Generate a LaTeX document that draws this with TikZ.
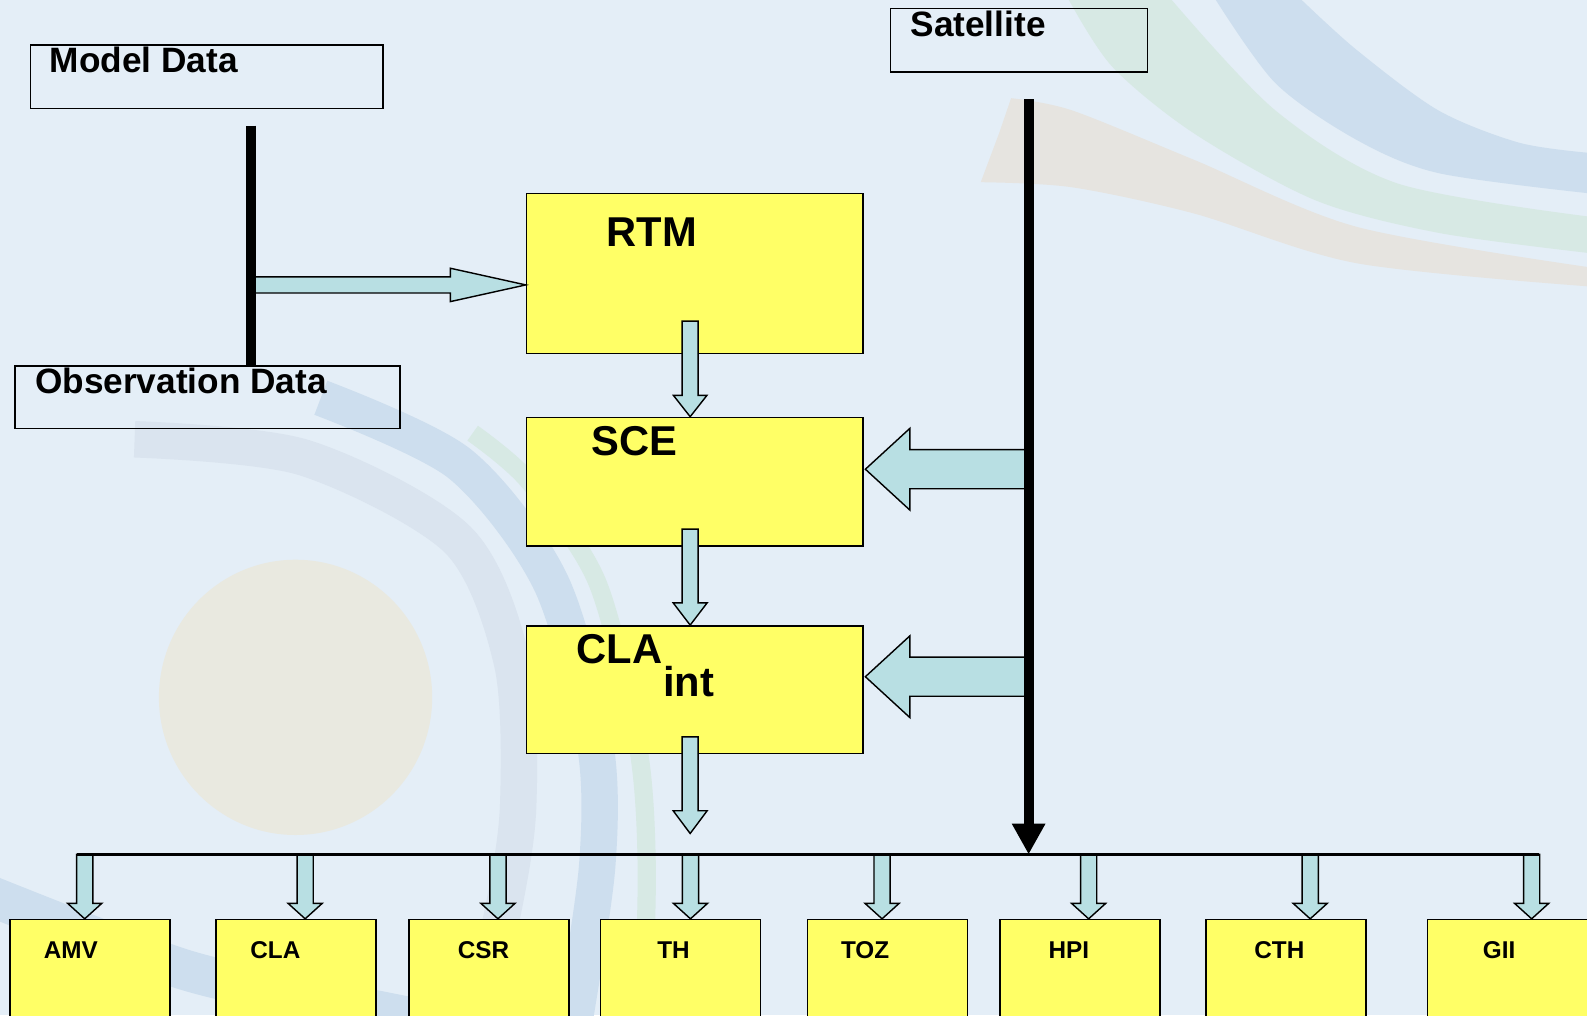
\documentclass[tikz,border=0pt]{standalone}
\usepackage{fontspec}
\setmainfont{Liberation Sans}
\usetikzlibrary{calc,arrows.meta}
\definecolor{bgc}{RGB}{228,238,247}
\definecolor{yel}{RGB}{255,255,102}
\definecolor{arrc}{RGB}{184,223,227}
\definecolor{bandblue}{RGB}{205,222,238}
\definecolor{bandlblue}{RGB}{218,228,239}
\definecolor{bandgreen}{RGB}{215,233,228}
\definecolor{bandbeige}{RGB}{230,228,224}
\definecolor{diskc}{RGB}{233,233,224}
\newcommand{\blkdown}[5]{\draw[blk] ($(#1)+(-#3,0)$) -- ($(#2)+(-#3,-#5)$) -- ($(#2)+(-#4,-#5)$) -- (#2) -- ($(#2)+(#4,-#5)$) -- ($(#2)+(#3,-#5)$) -- ($(#1)+(#3,0)$) -- cycle;}
\newcommand{\blkright}[5]{\draw[blk] ($(#1)+(0,-#3)$) -- ($(#2)+(-#5,-#3)$) -- ($(#2)+(-#5,-#4)$) -- (#2) -- ($(#2)+(-#5,#4)$) -- ($(#2)+(-#5,#3)$) -- ($(#1)+(0,#3)$) -- cycle;}
\newcommand{\blkleft}[5]{\draw[blk] ($(#1)+(0,-#3)$) -- ($(#2)+(#5,-#3)$) -- ($(#2)+(#5,-#4)$) -- (#2) -- ($(#2)+(#5,#4)$) -- ($(#2)+(#5,#3)$) -- ($(#1)+(0,#3)$) -- cycle;}
\tikzset{
 databox/.style={draw=black, line width=0.8pt, rectangle, inner sep=0pt, anchor=north west},
 procbox/.style={databox, fill=yel},
 blk/.style={fill=arrc, draw=black, line width=0.7pt, line join=miter},
 bigtxt/.style={inner sep=0pt, anchor=base west, font=\fontsize{20.6}{24}\selectfont\bfseries},
 midtxt/.style={inner sep=0pt, anchor=base west, font=\fontsize{17.4}{20}\selectfont\bfseries},
 smalltxt/.style={inner sep=0pt, anchor=base west, font=\fontsize{12}{14}\selectfont\bfseries},
 feed/.style={line width=4.5pt},
}
\begin{document}
\begin{tikzpicture}[x=0.5pt,y=-0.5pt]
\useasboundingbox (0,0) rectangle (1568,1003);
\fill[bgc] (0,0) rectangle (1568,1003);
% background decoration
\fill[diskc] (292,689) ellipse [x radius=67.5pt, y radius=68pt];
\draw[bandblue, line width=20pt] plot[smooth] coordinates {(-10,885) (182,958) (330,990) (440,1012)};
\draw[bandlblue, line width=18pt] plot[smooth] coordinates {(133,434) (300,452) (452,533) (506,655) (512,795) (498,895) (470,1012)};
\draw[bandblue, line width=18pt] plot[smooth] coordinates {(317,393) (454,458) (544,575) (588,735) (590,856) (567,1012)};
\draw[bandgreen, line width=9pt] plot[smooth] coordinates {(467,428) (522,475) (590,575) (630,735) (639,856) (635,1012)};
\fill[bandblue] plot[smooth] coordinates {(1284,-2) (1340,49) (1421,109) (1501,141) (1570,151)} -- plot[smooth] coordinates {(1570,191) (1421,171) (1340,138) (1260,82) (1200,-2)} -- cycle;
\fill[bandgreen] plot[smooth] coordinates {(1156,-2) (1260,109) (1380,181) (1570,214)} -- plot[smooth] coordinates {(1570,250) (1421,230) (1300,198) (1180,132) (1099,66) (1055,-2)} -- cycle;
\fill[bandbeige] plot[smooth] coordinates {(999,97) (1059,109) (1180,158) (1340,224) (1570,264)} -- plot[smooth] coordinates {(1570,283) (1340,260) (1180,211) (1059,185) (969,180)} -- (987,132) -- cycle;
% boxes
\node[databox, minimum width=174.15pt, minimum height=31.3pt] (model) at (29.2,43.8) {};
\node[databox, minimum width=190pt, minimum height=31pt] (obs) at (14.1,360.7) {};
\node[databox, minimum width=127pt, minimum height=31.3pt] (sat) at (878.9,7.6) {};
\node[procbox, minimum width=166.25pt, minimum height=79pt] (rtm) at (519.5,190.4) {};
\node[procbox, minimum width=166.25pt, minimum height=63.45pt] (sce) at (519.5,411.7) {};
\node[procbox, minimum width=166.25pt, minimum height=63.1pt] (clai) at (519.5,617.6) {};
% texts
\node[midtxt] (modeltxt) at (48.9,71.8) {Model Data};
\node[midtxt] (obstxt) at (34.3,388.7) {Observation Data};
\node[midtxt] (sattxt) at (899.2,35.6) {Satellite};
\node[bigtxt] (rtmtxt) at (599,243.7) {RTM};
\node[bigtxt] (scetxt) at (584,449.6) {SCE};
\node[bigtxt] (clatxt) at (569.2,655.4) {CLA};
\node[bigtxt] (inttxt) at (654.7,688.4) {int};
% model/observation feed
\coordinate (h0) at (248,281.5);
\coordinate (h1) at (h0 -| rtm.west);
\blkright{h0}{h1}{8}{16.5}{74.6}
\coordinate (mtop) at (248,124);
\draw[feed] (mtop) -- (mtop |- obs.north);
% central chain
\coordinate (d1s) at (681.9,317.2);
\coordinate (d1t) at (d1s |- sce.north);
\blkdown{d1s}{d1t}{7.9}{16.5}{21}
\coordinate (d2s) at (681.9,522.7);
\coordinate (d2t) at (d2s |- clai.north);
\blkdown{d2s}{d2t}{7.9}{16.8}{22}
\coordinate (d3s) at (681.9,728);
\coordinate (d3t) at (681.9,823.5);
\blkdown{d3s}{d3t}{7.9}{16.8}{22.5}
% satellite feed
\coordinate (l1s) at (1016,463.6);
\coordinate (l1t) at (855,463.6);
\blkleft{l1s}{l1t}{19.3}{40.4}{44}
\coordinate (l2s) at (1016,668.6);
\coordinate (l2t) at (855,668.6);
\blkleft{l2s}{l2t}{19.3}{40.4}{44}
\coordinate (stop) at (1016.3,98.2);
\coordinate (sbot) at (1016.3,844.2);
\draw[line width=5pt, -{Triangle[width=15.5pt,length=15.2pt]}] (stop) -- (sbot);
% products
\foreach \nm/\bx/\ax/\lab/\lx/\bw in {amv/9.1/83.7/AMV/42.9/79, cla/212.8/301.5/CLA/247/79, csr/403.3/492/CSR/452/79, th/592.5/682.2/TH/649/79, toz/797/871.5/TOZ/830.6/79, hpi/987/1075.6/HPI/1035.6/79, cth/1191/1294.5/CTH/1239/79, gii/1409.5/1513.3/GII/1464.8/81}{
 \node[procbox, minimum width=\bw pt, minimum height=52pt] (\nm) at (\bx,907.8) {};
 \node[smalltxt] (\nm-txt) at (\lx,947) {\lab};
 \coordinate (\nm-s) at (\ax,844.2);
 \coordinate (\nm-t) at (\nm-s |- \nm.north);
 \blkdown{\nm-s}{\nm-t}{8}{16.8}{15.2}
}
\coordinate (busL) at (75.6,844.2);
\coordinate (busR) at (1521,844.2);
\draw[line width=1.1pt] (busL) -- (busR);
\end{tikzpicture}
\end{document}
